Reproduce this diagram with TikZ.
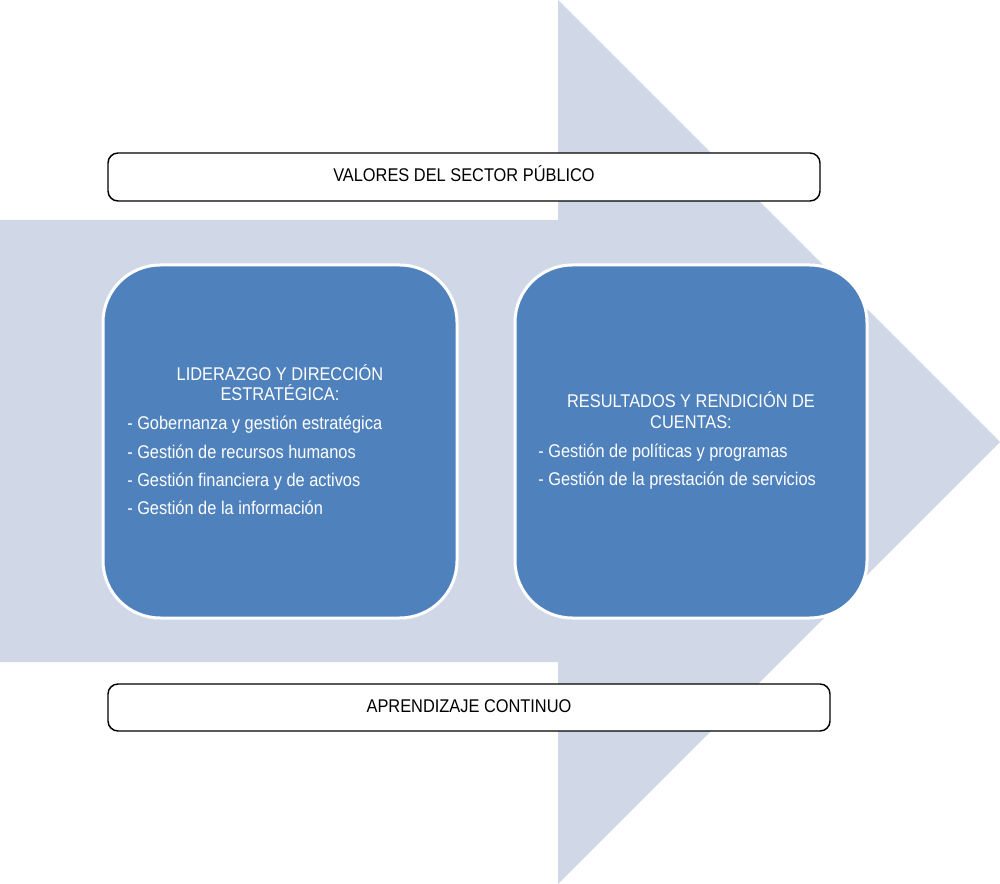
\documentclass[tikz,border=0pt]{standalone}
\usepackage{fontspec}
\setmainfont[FakeStretch=0.89]{Liberation Sans}
\definecolor{arrowgray}{RGB}{208,216,232}
\definecolor{boxblue}{RGB}{79,129,189}
\usetikzlibrary{positioning}

\begin{document}
\begin{tikzpicture}[x=0.75pt,y=0.75pt,yscale=-1,xscale=1,
	bigarrow/.style={fill=arrowgray},
	bluebox/.style={fill=boxblue,draw=white,line width=2.25pt,rounded corners=43pt},
	framebox/.style={fill=white,draw=black,line width=1.1pt,rounded corners=7.5pt},
	txt/.style={inner sep=0pt,font=\fontsize{13.8}{16}\selectfont},
	boxtitle/.style={txt,anchor=base,text=white},
	boxitem/.style={txt,anchor=base west,text=white},
	bandtext/.style={txt,anchor=base,text=black}]
	\useasboundingbox (0,0) rectangle (1000,884);
	
	%Shape: Right Arrow
	\fill [bigarrow] (0,220) -- (558,220) -- (558,0) -- (1000,442) -- (558,884) -- (558,662) -- (0,662) -- cycle ;
	
	%Rounded Rect: values band
	\draw [framebox] (108,153) rectangle (820,201) ;
	%Rounded Rect: learning band
	\draw [framebox] (108,684) rectangle (830,731) ;
	%Rounded Rect: leadership
	\draw [bluebox] (103,265) rectangle (457,618) ;
	%Rounded Rect: results
	\draw [bluebox] (515,265) rectangle (867,618) ;
	
	% Text Node
	\node [bandtext] (valores) at (464,182) {VALORES DEL SECTOR PÚBLICO};
	% Text Node
	\node [bandtext] (aprendizaje) at (469,712) {APRENDIZAJE CONTINUO};
	
	% Text Node
	\node [boxtitle] (liderA) at (280,381) {LIDERAZGO Y DIRECCIÓN};
	\node [boxtitle] (liderB) at (280,401) {ESTRATÉGICA:};
	\node [boxitem] (gob) at (127,429) {- Gobernanza y gestión estratégica};
	\node [boxitem] (rrhh) at (127,458) {- Gestión de recursos humanos};
	\node [boxitem] (fin) at (127,486) {- Gestión financiera y de activos};
	\node [boxitem] (info) at (127,514) {- Gestión de la información};
	
	% Text Node
	\node [boxtitle] (resA) at (691,407) {RESULTADOS Y RENDICIÓN DE};
	\node [boxtitle] (resB) at (691,428) {CUENTAS:};
	\node [boxitem] (pol) at (538,457) {- Gestión de políticas y programas};
	\node [boxitem] (serv) at (538,485) {- Gestión de la prestación de servicios};
	
\end{tikzpicture}
\end{document}
